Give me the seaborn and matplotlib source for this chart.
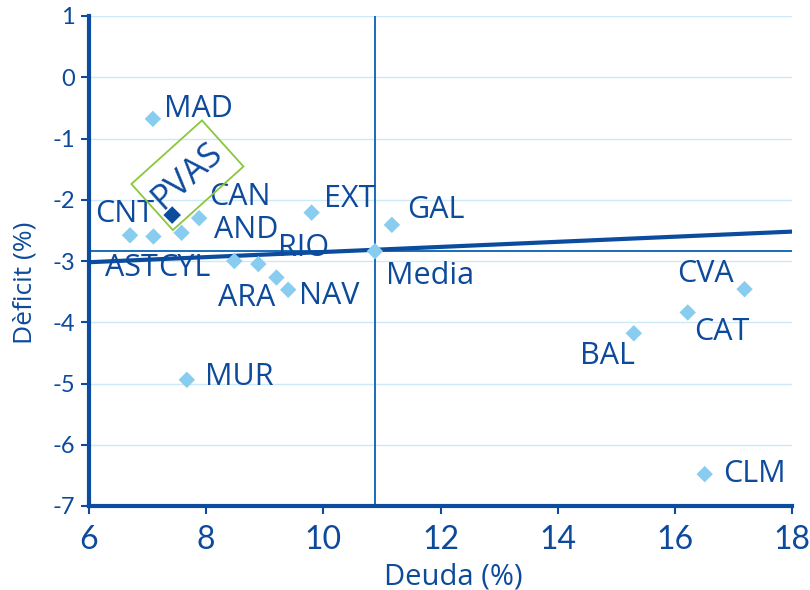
import matplotlib
matplotlib.use("Agg")
import matplotlib.pyplot as plt
import matplotlib.transforms as mtransforms
from matplotlib.patches import Rectangle
import seaborn as sns
import pandas as pd
import numpy as np

# ---- data ----
regions = ["MAD", "PVAS", "CAN", "CNT", "AST", "CYL", "EXT", "GAL", "ARA",
           "RIO", "AND", "NAV", "MUR", "BAL", "CAT", "CVA", "CLM"]
deuda = [7.09, 7.42, 7.88, 6.70, 7.10, 7.58, 9.80, 11.17, 8.48,
         8.89, 9.20, 9.40, 7.67, 15.30, 16.22, 17.19, 16.51]
deficit = [-0.68, -2.25, -2.30, -2.58, -2.60, -2.54, -2.21, -2.41, -3.00,
           -3.05, -3.27, -3.47, -4.94, -4.18, -3.84, -3.46, -6.48]
media_x = 10.88
media_y = -2.84
trend_x = [6, 18]
trend_y = [-3.02, -2.52]

x_ticks = [6, 8, 10, 12, 14, 16, 18]
y_ticks = [1, 0, -1, -2, -3, -4, -5, -6, -7]

# label anchor positions (left edge, vertical centre) in data units
label_pos = {
    "MAD": (7.28, -0.52), "CAN": (8.05, -1.955), "CNT": (6.10, -2.23),
    "AND": (8.13, -2.49), "EXT": (10.01, -1.99), "GAL": (11.43, -2.17),
    "RIO": (9.23, -2.79), "AST": (6.27, -3.11), "CYL": (7.18, -3.11),
    "ARA": (8.20, -3.60), "NAV": (9.58, -3.57), "CVA": (16.04, -3.21),
    "CAT": (16.33, -4.16), "BAL": (14.38, -4.55), "MUR": (7.98, -4.89),
    "CLM": (16.82, -6.48),
}
pvas_label_pos = (7.68, -1.60)

df = pd.DataFrame({"region": regions, "deuda": deuda, "deficit": deficit})
df["grupo"] = np.where(df["region"] == "PVAS", "PVAS", "otros")

DARK = "#0b4c9f"
LIGHT = "#88cdef"
TEXT = "#0d4a9c"
GRID = "#cde9f7"
MID = "#1a6cb8"
GREEN = "#8cc63f"

sns.set_theme(style="white")
plt.rcParams["font.family"] = ["Open Sans", "DejaVu Sans"]

fig = plt.figure(figsize=(8.1, 5.9), dpi=100)
ax = fig.add_axes([89 / 810, 1 - 506 / 590, (792 - 89) / 810, (506 - 16) / 590])
ax.set_xlim(6, 18)
ax.set_ylim(-7, 1)

for yv in y_ticks:
    ax.axhline(yv, color=GRID, lw=1.0, zorder=0)

ax.axvline(media_x, color=MID, lw=1.4, zorder=1)
ax.axhline(media_y, color=MID, lw=1.4, zorder=1)

sns.lineplot(x=trend_x, y=trend_y, ax=ax, color=DARK, lw=3, zorder=2)

sns.scatterplot(data=df[df["grupo"] == "otros"], x="deuda", y="deficit", ax=ax,
                marker="D", s=70, color=LIGHT, edgecolor="none", zorder=3)
sns.scatterplot(data=df[df["grupo"] == "PVAS"], x="deuda", y="deficit", ax=ax,
                marker="D", s=80, color=DARK, edgecolor="none", zorder=4)
sns.scatterplot(x=[media_x], y=[media_y], ax=ax, marker="D", s=70,
                color=LIGHT, edgecolor="none", zorder=3)

lab_fs = 22
for name, (lx, ly) in label_pos.items():
    ax.text(lx, ly, name, ha="left", va="center", fontsize=lab_fs, color=TEXT,
            zorder=5)
ax.text(11.07, -3.245, "Media", ha="left", va="center", fontsize=lab_fs,
        color=TEXT, zorder=5)

# PVAS rotated label with green frame
ax.set_xlim(6, 18)
ax.set_ylim(-7, 1)
ax.text(pvas_label_pos[0], pvas_label_pos[1], "PVAS", ha="center",
        va="center", rotation=42, rotation_mode="anchor", fontsize=25,
        color=TEXT, zorder=5)
cx, cy = ax.transData.transform(pvas_label_pos)
frame_w, frame_h = 95, 62
rect_tr = mtransforms.Affine2D().rotate_deg(42).translate(cx, cy)
fig.patches.append(Rectangle((-frame_w / 2, -frame_h / 2), frame_w, frame_h,
                             fill=False, ec=GREEN, lw=1.3, transform=rect_tr,
                             figure=fig, zorder=5))

ax.set_xticks(x_ticks)
ax.set_yticks(y_ticks)
tickfam = ["Lato", "DejaVu Sans"]
ax.set_xticklabels([str(v) for v in x_ticks], fontsize=23, color=TEXT,
                   family=tickfam)
ax.set_yticklabels([str(v) for v in y_ticks], fontsize=17, color=TEXT,
                   family=tickfam)
ax.tick_params(axis="both", direction="out", length=6, width=1.5,
               color=DARK, left=True, bottom=True, pad=4)
ax.tick_params(axis="x", pad=8)

for side in ["top", "right"]:
    ax.spines[side].set_visible(False)
for side in ["left", "bottom"]:
    ax.spines[side].set_color(DARK)
    ax.spines[side].set_linewidth(3)

ax.set_xlabel("Deuda (%)", fontsize=21, color=TEXT)
ax.xaxis.set_label_coords((453 - 89) / 703, -(577 - 506) / 490)
ax.xaxis.label.set_va("center")
ax.set_ylabel("Dèficit (%)", fontsize=19, color=TEXT)
ax.yaxis.set_label_coords(-(89 - 25) / 703, (506 - 283) / 490)
ax.yaxis.label.set_va("center")

fig.savefig("out.png", dpi=100)
